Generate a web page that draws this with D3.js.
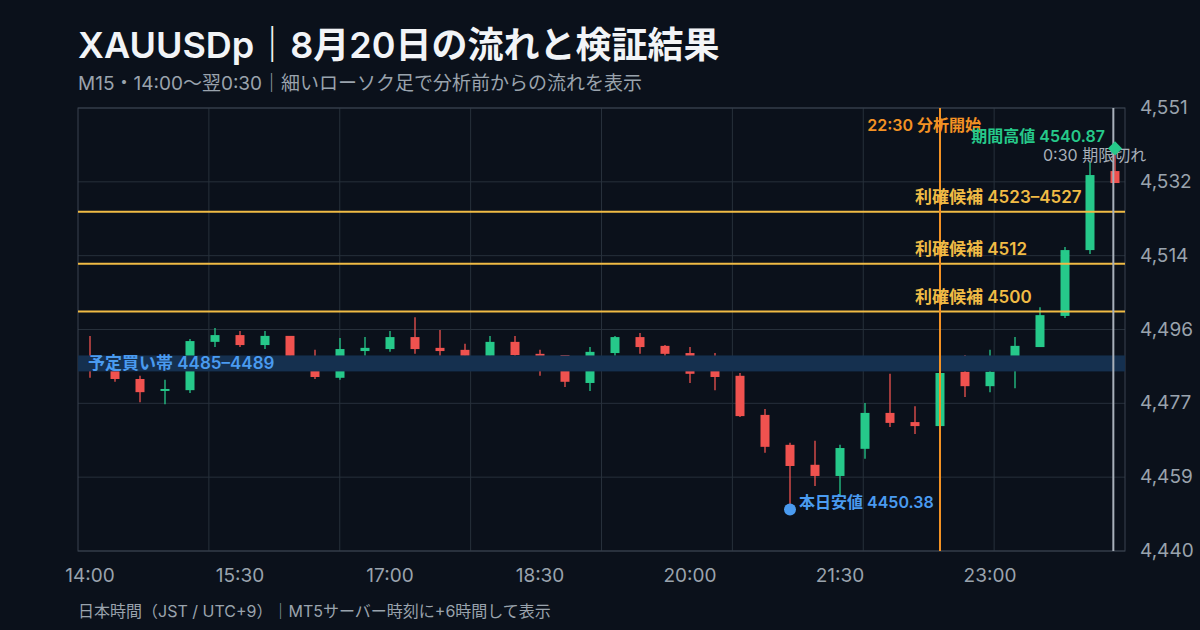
<!DOCTYPE html>
<html><head><meta charset="utf-8">
<script src="https://cdn.jsdelivr.net/npm/d3@7"></script>
<style>
body{margin:0;background:#0b111b;}
text{font-family:Inter,"Noto Sans CJK JP",sans-serif;}
</style></head>
<body><svg id="c" width="1200" height="630"></svg>
<script>
// 15-minute candles from 14:00 (open, high, low, close)
var opens  = [4487.9,4485.4,4483.1,4480.1,4480.3,4492.4,4494.1,4491.6,4493.9,4485.4,4483.4,4490.1,4490.6,4493.6,4490.9,4490.4,4488.9,4492.4,4489.4,4489.1,4482.1,4489.6,4493.6,4491.4,4489.6,4485.4,4483.9,4474.1,4466.6,4461.6,4458.8,4465.6,4474.6,4472.3,4471.3,4484.9,4481.3,4486.4,4491.1,4498.9,4515.4,4535.2];
var highs  = [4493.9,4486.4,4483.9,4482.9,4493.1,4495.9,4495.1,4495.1,4493.9,4490.4,4493.4,4493.6,4495.1,4498.6,4495.4,4491.9,4493.9,4493.9,4490.4,4489.1,4491.1,4493.9,4494.6,4491.6,4491.1,4489.6,4484.6,4475.6,4467.1,4467.6,4466.6,4477.1,4484.4,4476.3,4485.4,4489.1,4490.4,4493.6,4501.1,4516.2,4537.5,4540.87];
var lows   = [4483.4,4482.4,4477.3,4476.8,4479.6,4491.1,4491.1,4490.6,4488.9,4483.1,4482.9,4488.9,4489.9,4489.4,4488.9,4488.6,4488.6,4488.9,4483.9,4481.1,4480.1,4488.9,4489.4,4488.9,4482.1,4480.3,4473.6,4464.6,4450.38,4456.3,4453.5,4463.1,4471.1,4469.3,4471.1,4478.6,4479.8,4480.8,4491.1,4498.4,4514.4,4532.2];
var closes = [4485.9,4483.1,4479.8,4480.6,4492.6,4494.1,4491.6,4493.9,4488.9,4483.6,4490.6,4490.9,4493.6,4490.6,4490.1,4488.9,4492.4,4489.1,4488.6,4482.4,4489.9,4493.6,4491.1,4489.4,4484.4,4483.6,4473.8,4466.1,4461.3,4458.8,4465.8,4474.6,4472.1,4471.3,4484.6,4481.3,4484.9,4491.4,4499.1,4515.4,4534.2,4532.2];
var yTicks = [4440,4458.5,4477,4495.5,4514,4532.5,4551];
var yTickLabels = ["4,440","4,459","4,477","4,496","4,514","4,532","4,551"];
var xTicks = [0,90,180,270,360,450,540];
var xTickLabels = ["14:00","15:30","17:00","18:30","20:00","21:30","23:00"];
var targets = [{v:4525,t:"利確候補 4523–4527"},{v:4512,t:"利確候補 4512"},{v:4500,t:"利確候補 4500"}];
var buyBand = [4485,4489];
var startMin = 510, endMin = 614, lowIdx = 28, highIdx = 41;

var svg = d3.select("#c");
var L = 78, R = 1125, T = 108, B = 551;
var x = d3.scaleLinear().domain([-7.2, 621]).range([L, R]);
var y = d3.scaleLinear().domain([4440, 4551]).range([B, T]);
var grey = "#9aa3ad", up = "#26c98a", dn = "#f0524f", gold = "#f0bb45", blue = "#4a9bf0";

svg.append("text").attr("x", 78).attr("y", 58).attr("fill", "#f2f4f7")
	.attr("font-size", 36).attr("font-weight", 600).text("XAUUSDp｜8月20日の流れと検証結果");
svg.append("text").attr("x", 78).attr("y", 90).attr("fill", grey)
	.attr("font-size", 19).text("M15・14:00〜翌0:30｜細いローソク足で分析前からの流れを表示");
svg.append("text").attr("x", 78).attr("y", 617).attr("fill", grey)
	.attr("font-size", 16).text("日本時間（JST / UTC+9）｜MT5サーバー時刻に+6時間して表示");

var g = svg.append("g");
// grid
yTicks.forEach(function (v) {
	g.append("line").attr("x1", L).attr("x2", R).attr("y1", y(v)).attr("y2", y(v)).attr("stroke", "#27303b");
});
d3.range(1, 8).forEach(function (i) {
	var px = L + (R - L) * i / 8;
	g.append("line").attr("x1", px).attr("x2", px).attr("y1", T).attr("y2", B).attr("stroke", "#27303b");
});
g.append("rect").attr("x", L).attr("y", T).attr("width", R - L).attr("height", B - T)
	.attr("fill", "none").attr("stroke", "#3a4350");

yTicks.forEach(function (v, i) {
	svg.append("text").attr("x", 1140).attr("y", y(v) + 6).attr("fill", grey).attr("font-size", 19).text(yTickLabels[i]);
});
xTicks.forEach(function (v, i) {
	svg.append("text").attr("x", x(v)).attr("y", 582).attr("text-anchor", "middle")
		.attr("fill", grey).attr("font-size", 19).text(xTickLabels[i]);
});

// candles
opens.forEach(function (o, i) {
	var cx = x(i * 15), c = closes[i], col = c >= o ? up : dn;
	g.append("line").attr("x1", cx).attr("x2", cx).attr("y1", y(highs[i])).attr("y2", y(lows[i]))
		.attr("stroke", col).attr("stroke-width", 1.3);
	g.append("rect").attr("x", cx - 4.5).attr("width", 9)
		.attr("y", y(Math.max(o, c))).attr("height", Math.max(2, Math.abs(y(o) - y(c)))).attr("fill", col);
});

// buy band
g.append("rect").attr("x", L).attr("width", R - L).attr("y", y(buyBand[1])).attr("height", y(buyBand[0]) - y(buyBand[1]))
	.attr("fill", "#15304f");
svg.append("text").attr("x", 88).attr("y", y(4487) + 6).attr("fill", blue).attr("font-size", 17).attr("font-weight", 600)
	.text("予定買い帯 4485–4489");

targets.forEach(function (d) {
	g.append("line").attr("x1", L).attr("x2", R).attr("y1", y(d.v)).attr("y2", y(d.v)).attr("stroke", gold).attr("stroke-width", 2);
	svg.append("text").attr("x", 915).attr("y", y(d.v) - 9).attr("fill", gold)
		.attr("font-size", 17).attr("font-weight", 600).text(d.t);
});

// analysis start / expiry
g.append("line").attr("x1", x(startMin)).attr("x2", x(startMin)).attr("y1", T).attr("y2", B).attr("stroke", "#f39224").attr("stroke-width", 2);
svg.append("text").attr("x", 981).attr("y", 131).attr("text-anchor", "end").attr("fill", "#f39224")
	.attr("font-size", 16).attr("font-weight", 600).text("22:30 分析開始");
g.append("line").attr("x1", x(endMin)).attr("x2", x(endMin)).attr("y1", T).attr("y2", B).attr("stroke", "#a8b0ba").attr("stroke-width", 2);
svg.append("text").attr("x", 1043).attr("y", 161).attr("fill", "#a8b0ba").attr("font-size", 16).text("0:30 期限切れ");

// low / high markers
svg.append("circle").attr("cx", x(lowIdx * 15)).attr("cy", y(lows[lowIdx])).attr("r", 6).attr("fill", blue);
svg.append("text").attr("x", x(lowIdx * 15) + 9).attr("y", y(lows[lowIdx]) - 2).attr("fill", blue)
	.attr("font-size", 16).attr("font-weight", 600).text("本日安値 " + lows[lowIdx].toFixed(2));
var hx = x(highIdx * 15), hy = y(highs[highIdx]);
svg.append("path").attr("d", d3.symbol(d3.symbolDiamond2, 130)()).attr("transform", "translate(" + hx + "," + hy + ")").attr("fill", up);
svg.append("text").attr("x", hx - 10).attr("y", hy - 6).attr("text-anchor", "end").attr("fill", up)
	.attr("font-size", 16).attr("font-weight", 600).text("期間高値 " + highs[highIdx].toFixed(2));
</script></body></html>
